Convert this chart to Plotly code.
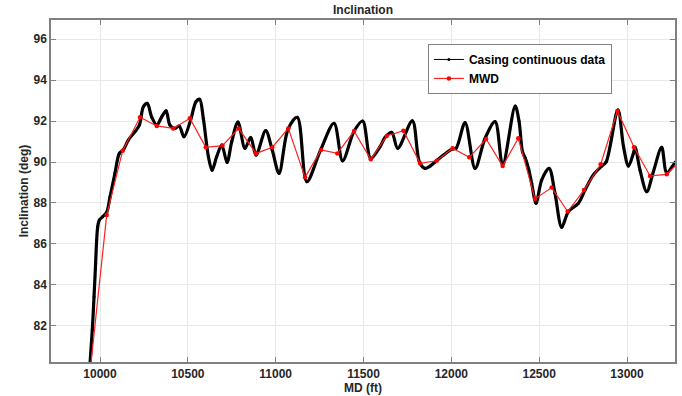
import plotly.graph_objects as go

# Casing continuous data (key points)
casing_md = [9938, 9956, 9966, 9975, 9981, 9987, 9996, 10015, 10038, 10057, 10085, 10110, 10133,
             10161, 10199, 10224, 10247, 10269, 10294, 10323, 10351, 10376, 10398, 10427, 10451,
             10478, 10516, 10546, 10567, 10588, 10617, 10638, 10664, 10693, 10723, 10750, 10785,
             10825, 10858, 10888, 10943, 10980, 11019, 11070, 11123, 11177, 11256, 11332, 11381,
             11446, 11495, 11541, 11594, 11622, 11660, 11695, 11778, 11818, 11850, 11879, 11907,
             11955, 12002, 12027, 12078, 12135, 12192, 12249, 12292, 12363, 12385, 12405, 12420,
             12440, 12457, 12482, 12514, 12556, 12590, 12628, 12666, 12723, 12761, 12808, 12856,
             12881, 12948, 12980, 13008, 13036, 13046, 13074, 13112, 13150, 13197, 13226, 13273, 13290]
casing_inc = [79.5, 81.8, 83.43, 85.06, 86.2, 86.84, 87.17, 87.33, 87.55, 88.3, 89.45, 90.42, 90.6,
              91.07, 91.48, 91.8, 92.7, 92.86, 92.2, 91.8, 92.2, 92.5, 91.8, 91.64, 91.76,
              91.23, 92.05, 92.94, 93.06, 92.13, 90.26, 89.6, 90.26, 90.83, 89.98, 91.0, 91.95,
              90.67, 91.2, 90.34, 91.53, 90.6, 89.45, 91.6, 92.18, 89.04, 90.59, 91.89, 90.06,
              91.5, 92.0, 90.18, 90.75, 91.2, 91.45, 90.67, 92.01, 90.0, 89.69, 89.8, 90.0,
              90.34, 90.62, 90.67, 91.92, 89.69, 91.16, 91.97, 89.85, 92.73, 92.0, 90.5, 90.2,
              89.65, 88.96, 87.99, 89.12, 89.69, 88.47, 86.81, 87.58, 87.99, 88.63, 89.37, 89.8,
              90.0, 92.54, 90.75, 89.8, 90.42, 90.72, 89.6, 88.55, 89.53, 90.72, 89.48, 89.97, 90.1]

# MWD survey stations
mwd_md = [9943, 10038, 10129, 10228, 10323, 10417, 10512, 10602, 10697, 10789, 10888, 10981,
          11072, 11167, 11258, 11351, 11446, 11541, 11632, 11727, 11822, 11916, 12007, 12102,
          12198, 12292, 12381, 12476, 12571, 12662, 12755, 12850, 12945, 13040, 13131, 13226, 13320]
mwd_inc = [79.75, 87.41, 90.55, 92.18, 91.76, 91.64, 92.13, 90.72, 90.8, 91.64, 90.42, 90.72,
           91.64, 89.25, 90.59, 90.42, 91.51, 90.13, 91.27, 91.53, 89.94, 90.06, 90.67, 90.23,
           91.12, 89.8, 91.16, 88.2, 88.75, 87.58, 88.63, 89.89, 92.49, 90.72, 89.32, 89.4, 90.2]

x_ticks = [10000, 10500, 11000, 11500, 12000, 12500, 13000]
y_ticks = [82, 84, 86, 88, 90, 92, 94, 96]

FONT = "Liberation Sans, Arial, Helvetica, sans-serif"
TXT = "#262626"

fig = go.Figure()
# thick curve (legend entry drawn by a thin companion entry, as in the original)
fig.add_trace(go.Scatter(
    x=casing_md, y=casing_inc, name="Casing continuous data",
    mode="lines+markers", showlegend=False, legendgroup="casing",
    line=dict(color="black", width=3.2, shape="spline", smoothing=0.9),
    marker=dict(color="black", size=3),
))
fig.add_trace(go.Scatter(
    x=[None], y=[None], name="Casing continuous data",
    mode="lines+markers", legendgroup="casing",
    line=dict(color="black", width=1),
    marker=dict(color="black", size=3),
))
fig.add_trace(go.Scatter(
    x=mwd_md, y=mwd_inc, name="MWD",
    mode="lines+markers",
    line=dict(color="#ff2020", width=1.2),
    marker=dict(color="#ff0000", size=4.5),
))

axis_common = dict(
    showline=True, linecolor="#808080", linewidth=1.5, mirror="ticks",
    ticks="inside", ticklen=5, tickcolor="#808080", tickwidth=1,
    showgrid=True, gridcolor="#e8e8e8", gridwidth=1, zeroline=False,
    tickfont=dict(family=FONT, size=12, color=TXT, weight="bold"),
)

fig.update_layout(
    width=682, height=396,
    margin=dict(l=51, r=7, t=20, b=34),
    paper_bgcolor="white", plot_bgcolor="white",
    title=dict(text="Inclination", x=0.5, xref="paper", y=1 - 10 / 396, yref="container",
               xanchor="center", yanchor="middle",
               font=dict(family=FONT, size=12, color=TXT, weight="bold")),
    xaxis=dict(range=[9721, 13273], tickvals=x_ticks, ticktext=[str(v) for v in x_ticks],
               title=dict(text="MD (ft)", standoff=3,
                          font=dict(family=FONT, size=12, color=TXT, weight="bold")),
               automargin=False, **axis_common),
    yaxis=dict(range=[80.24, 96.93], tickvals=y_ticks, ticktext=[str(v) for v in y_ticks],
               title=dict(text="Inclination (deg)", standoff=2,
                          font=dict(family=FONT, size=12, color=TXT, weight="bold")),
               automargin=False, **axis_common),
    legend=dict(x=0.604, y=0.930, xanchor="left", yanchor="top",
                bgcolor="white", bordercolor="#808080", borderwidth=1,
                itemwidth=30, tracegroupgap=0,
                font=dict(family=FONT, size=12, color="black", weight="bold")),
    showlegend=True,
)

fig.write_html("out.html")
